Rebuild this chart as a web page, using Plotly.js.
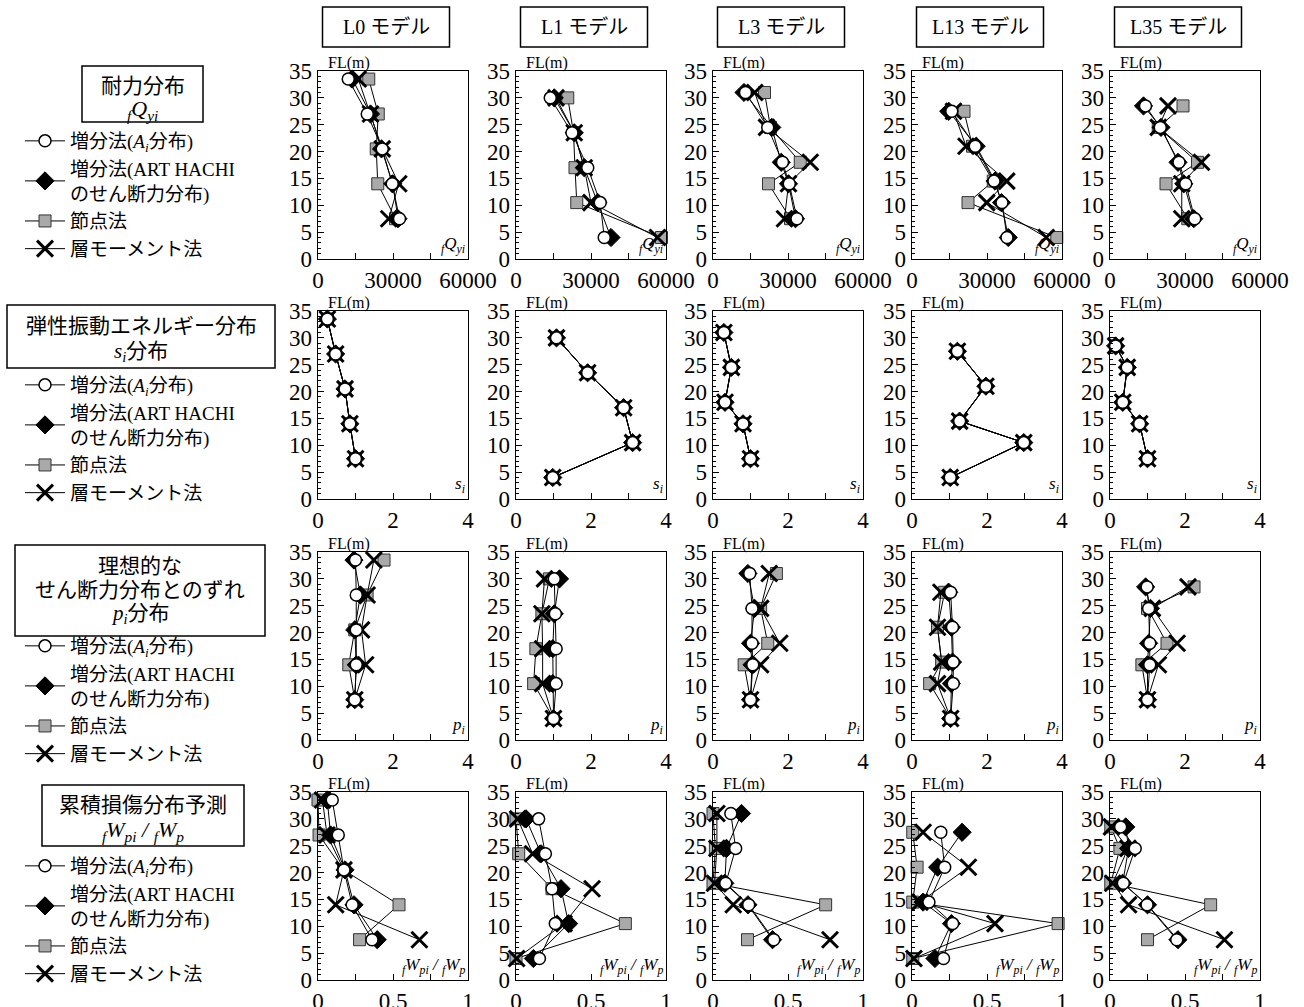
<!DOCTYPE html>
<html>
<head>
<meta charset="utf-8">
<script src="https://cdn.plot.ly/plotly-3.0.1.min.js"></script>
<style>html,body{margin:0;padding:0;background:#fff;}#chart{width:1304px;height:1007px;}</style>
</head>
<body>
<div id="chart"></div>
<script>
// ---------- data ----------
const models = ['L0', 'L1', 'L3', 'L13', 'L35'];
const modelTitles = ['L0 モデル', 'L1 モデル', 'L3 モデル', 'L13 モデル', 'L35 モデル'];
// floor levels FL(m) per model (top to bottom)
const flL0  = [33.5, 27, 20.5, 14, 7.5];
const flL1  = [30, 23.5, 17, 10.5, 4];
const flL3  = [31, 24.5, 18, 14, 7.5];
const flL13 = [27.5, 21, 14.5, 10.5, 4];
const flL35 = [28.5, 24.5, 18, 14, 7.5];
const levels = [flL0, flL1, flL3, flL13, flL35];

const methodNames = ['増分法(<i>A<sub>i</sub></i>分布)', '増分法(ART HACHI<br>のせん断力分布)', '節点法', '層モーメント法'];

// Row 1: strength distribution fQyi
const qyiAi = [
  [12100, 19700, 25700, 29700, 32600],
  [13700, 22400, 28700, 33700, 35300],
  [13000, 21900, 27800, 30500, 33600],
  [15900, 25300, 32800, 36000, 38000],
  [14200, 20100, 27600, 30300, 33900]];
const qyiArt = [
  [13700, 21000, 25400, 29900, 32000],
  [15300, 23300, 27300, 32700, 38000],
  [12400, 23500, 27300, 30200, 33000],
  [14700, 25700, 33200, 35800, 38500],
  [13400, 20400, 27200, 29500, 33500]];
const qyiNode = [
  [20300, 24100, 23300, 23900, 31000],
  [20700, 23000, 23600, 24300, 58200],
  [20600, 23000, 34900, 22200, 31000],
  [20800, 24200, 32500, 22400, 57900],
  [29200, 19300, 35000, 22400, 31100]];
const qyiMoment = [
  [16100, 21000, 25700, 32300, 28300],
  [16000, 23300, 27300, 30000, 56600],
  [16700, 21400, 38900, 30200, 28600],
  [16600, 21600, 37900, 29900, 53700],
  [23200, 19300, 36600, 28700, 28700]];

// Row 2: elastic vibration energy distribution si (all four methods coincide)
const siAll = [
  [0.25, 0.47, 0.72, 0.85, 1.0],
  [1.08, 1.91, 2.87, 3.11, 0.98],
  [0.29, 0.49, 0.32, 0.80, 1.0],
  [1.21, 1.97, 1.27, 2.98, 1.02],
  [0.15, 0.46, 0.34, 0.79, 1.0]];

// Row 3: deviation from ideal shear distribution pi
const piAi = [
  [1.00, 1.02, 1.02, 1.02, 0.98],
  [1.02, 1.05, 1.07, 1.07, 1.00],
  [0.98, 1.04, 1.04, 1.06, 1.00],
  [1.03, 1.08, 1.10, 1.10, 1.03],
  [0.99, 1.03, 1.06, 1.06, 1.00]];
const piArt = [
  [0.96, 1.13, 0.98, 1.02, 0.98],
  [1.16, 1.02, 0.98, 0.98, 1.00],
  [0.93, 1.11, 1.00, 1.04, 1.00],
  [0.98, 1.05, 1.08, 1.05, 1.03],
  [0.95, 1.08, 1.03, 1.00, 1.00]];
const piNode = [
  [1.76, 1.31, 0.98, 0.82, 0.98],
  [0.89, 0.69, 0.53, 0.47, 1.00],
  [1.69, 1.27, 1.46, 0.83, 1.00],
  [0.87, 0.68, 0.79, 0.47, 1.03],
  [2.24, 1.00, 1.52, 0.85, 1.00]];
const piMoment = [
  [1.49, 1.31, 1.16, 1.27, 0.98],
  [0.76, 0.69, 0.71, 0.71, 1.00],
  [1.50, 1.27, 1.78, 1.27, 1.00],
  [0.77, 0.68, 0.79, 0.68, 1.03],
  [2.08, 1.13, 1.79, 1.29, 1.00]];

// Row 4: cumulative damage distribution fWpi / fWp
const wpAi = [
  [0.095, 0.135, 0.173, 0.228, 0.36],
  [0.151, 0.196, 0.24, 0.262, 0.156],
  [0.119, 0.151, 0.085, 0.238, 0.405],
  [0.192, 0.218, 0.113, 0.271, 0.21],
  [0.071, 0.168, 0.089, 0.247, 0.445]];
const wpArt = [
  [0.062, 0.084, 0.18, 0.24, 0.395],
  [0.067, 0.167, 0.30, 0.351, 0.116],
  [0.19, 0.09, 0.079, 0.233, 0.397],
  [0.334, 0.171, 0.074, 0.263, 0.153],
  [0.105, 0.124, 0.084, 0.25, 0.453]];
const wpNode = [
  [0.0, 0.007, 0.17, 0.54, 0.277],
  [0.0, 0.018, 0.24, 0.729, 0.0],
  [0.0, 0.016, 0.0, 0.751, 0.23],
  [0.005, 0.034, 0.005, 0.974, 0.005],
  [0.005, 0.066, 0.005, 0.671, 0.25]];
const wpMoment = [
  [0.03, 0.06, 0.173, 0.118, 0.676],
  [0.011, 0.111, 0.507, 0.32, 0.004],
  [0.026, 0.026, 0.01, 0.135, 0.78],
  [0.074, 0.376, 0.053, 0.553, 0.013],
  [0.01, 0.12, 0.018, 0.124, 0.763]];

// x-axis settings per row
const xRanges = [[0, 60000], [0, 4], [0, 4], [0, 1]];
const xLabelStep = [30000, 2, 2, 0.5];
const xMinorStep = [15000, 1, 1, 0.25];
const xTickFormat = ['d', '', '', ''];
const rowVarLabels = [
  '<i><sub>f</sub>Q<sub>yi</sub></i>',
  '<i>s<sub>i</sub></i>',
  '<i>p<sub>i</sub></i>',
  '<i><sub>f</sub>W<sub>pi</sub> / <sub>f</sub>W<sub>p</sub></i>'];
const rowBoxTexts = [
  ['耐力分布', '<i><sub>f</sub>Q<sub>yi</sub></i>'],
  ['弾性振動エネルギー分布', '<i>s<sub>i</sub></i>分布'],
  ['理想的な', 'せん断力分布とのずれ', '<i>p<sub>i</sub></i>分布'],
  ['累積損傷分布予測', '<i><sub>f</sub>W<sub>pi</sub> / <sub>f</sub>W<sub>p</sub></i>']];

const rowData = [
  [qyiAi, qyiArt, qyiNode, qyiMoment],
  [siAll, siAll, siAll, siAll],
  [piAi, piArt, piNode, piMoment],
  [wpAi, wpArt, wpNode, wpMoment]];

// ---------- layout geometry ----------
const W = 1304, H = 1007;
const colLeft = [318, 516, 713, 912, 1110];
const plotW = 150;
const rowTop = [71, 311, 552, 792];
const plotH = 188;
const px = v => v / W;
const py = v => 1 - v / H;

const SERIF = 'Liberation Serif, Times New Roman, Noto Sans CJK JP, serif';
const MIXED = 'Liberation Serif, Noto Sans CJK JP, serif';

const markerStyles = [
  {symbol: 'circle', size: 12, color: 'white', line: {color: 'black', width: 1.5}},
  {symbol: 'diamond', size: 14, color: 'black', line: {color: 'black', width: 1}},
  {symbol: 'square', size: 12, color: '#a9a9a9', line: {color: '#333', width: 1}},
  {symbol: 'x-thin', size: 16, color: 'black', line: {color: 'black', width: 3}}];
// draw order: square, diamond, x, circle (circle on top)
const drawOrder = [2, 1, 3, 0];
const legendRank = [1, 2, 3, 4];

const traces = [];
const layout = {
  width: W, height: H, autosize: false,
  margin: {l: 0, r: 0, t: 0, b: 0},
  paper_bgcolor: 'white', plot_bgcolor: 'white',
  shapes: [], annotations: [],
  font: {family: SERIF, color: 'black'}
};

for (let r = 0; r < 4; r++) {
  for (let c = 0; c < 5; c++) {
    const idx = r * 5 + c + 1;
    const xa = 'xaxis' + (idx === 1 ? '' : idx);
    const ya = 'yaxis' + (idx === 1 ? '' : idx);
    const xr = 'x' + (idx === 1 ? '' : idx);
    const yr = 'y' + (idx === 1 ? '' : idx);
    layout[xa] = {
      domain: [px(colLeft[c]), px(colLeft[c] + plotW)],
      range: xRanges[r], autorange: false,
      anchor: yr, tick0: 0, dtick: xLabelStep[r],
      tickformat: xTickFormat[r], exponentformat: 'none', separatethousands: false,
      ticks: 'inside', ticklen: 6, tickcolor: 'black', tickwidth: 1,
      minor: {dtick: xMinorStep[r], ticks: 'inside', ticklen: 6, tickcolor: 'black', showgrid: false},
      showline: true, mirror: true, linecolor: 'black', linewidth: 1.3,
      showgrid: false, zeroline: false,
      tickfont: {family: SERIF, size: 23, color: 'black'},
      ticklabelstandoff: 0,
      fixedrange: true
    };
    layout[ya] = {
      domain: [py(rowTop[r] + plotH), py(rowTop[r])],
      range: [0, 35], autorange: false,
      anchor: xr, tick0: 0, dtick: 5,
      ticks: 'inside', ticklen: 6, tickcolor: 'black', tickwidth: 1,
      minor: {dtick: 1, ticks: 'inside', ticklen: 3, tickcolor: 'black', showgrid: false},
      showline: true, mirror: true, linecolor: 'black', linewidth: 1.3,
      showgrid: false, zeroline: false,
      tickfont: {family: SERIF, size: 23, color: 'black'},
      ticklabelstandoff: 0,
      fixedrange: true
    };
    for (const m of drawOrder) {
      traces.push({
        type: 'scatter', mode: 'lines+markers',
        x: rowData[r][m][c], y: levels[c],
        xaxis: xr, yaxis: yr,
        name: methodNames[m],
        legend: 'legend' + (r === 0 ? '' : (r + 1)),
        legendrank: legendRank[m],
        showlegend: c === 0,
        cliponaxis: false,
        line: {color: 'black', width: 1},
        marker: markerStyles[m],
        hoverinfo: 'x+y'
      });
    }
    // FL(m) label
    layout.annotations.push({
      xref: xr + ' domain', yref: yr + ' domain', x: 0.05, y: 1.0,
      xanchor: 'left', yanchor: 'bottom', showarrow: false,
      text: 'FL(m)', font: {family: SERIF, size: 16, color: 'black'}, yshift: -3
    });
    // variable label at bottom-right
    layout.annotations.push({
      xref: xr + ' domain', yref: yr + ' domain', x: 1.0, y: 0.0,
      xanchor: 'right', yanchor: 'bottom', showarrow: false,
      text: rowVarLabels[r], font: {family: SERIF, size: 17, color: 'black'}, xshift: -1, yshift: 1
    });
  }
}

// column header boxes
const headerBoxW = 127, headerTop = 7, headerBot = 47;
for (let c = 0; c < 5; c++) {
  const cx = colLeft[c] + plotW / 2 - 7;
  layout.shapes.push({
    type: 'rect', xref: 'paper', yref: 'paper',
    x0: px(cx - headerBoxW / 2), x1: px(cx + headerBoxW / 2),
    y0: py(headerBot), y1: py(headerTop),
    line: {color: 'black', width: 1.5}, fillcolor: 'rgba(0,0,0,0)'
  });
  layout.annotations.push({
    xref: 'paper', yref: 'paper', x: px(cx), y: py((headerTop + headerBot) / 2),
    xanchor: 'center', yanchor: 'middle', showarrow: false,
    text: modelTitles[c], font: {family: MIXED, size: 20, color: 'black'}
  });
}

// left row boxes
const rowBoxes = [
  {x0: 82, x1: 203, y0: 66, y1: 122, lines: [86, 110]},
  {x0: 7, x1: 275, y0: 305, y1: 368, lines: [326, 352]},
  {x0: 15, x1: 265, y0: 545, y1: 636, lines: [566, 590, 614]},
  {x0: 42, x1: 244, y0: 785, y1: 846, lines: [805, 831]}];
const boxTextSize = [[21, 22], [21, 21], [21, 21, 21], [21, 22]];
rowBoxes.forEach((b, r) => {
  layout.shapes.push({
    type: 'rect', xref: 'paper', yref: 'paper',
    x0: px(b.x0), x1: px(b.x1), y0: py(b.y1), y1: py(b.y0),
    line: {color: 'black', width: 1.5}, fillcolor: 'rgba(0,0,0,0)'
  });
  b.lines.forEach((yy, i) => {
    layout.annotations.push({
      xref: 'paper', yref: 'paper', x: px((b.x0 + b.x1) / 2), y: py(yy),
      xanchor: 'center', yanchor: 'middle', showarrow: false,
      text: rowBoxTexts[r][i], font: {family: MIXED, size: boxTextSize[r][i], color: 'black'}
    });
  });
});

// legends, one per row
const legendTops = [122, 366, 627, 847];
legendTops.forEach((t, r) => {
  const key = 'legend' + (r === 0 ? '' : (r + 1));
  layout[key] = {
    x: px(20), y: py(t), xanchor: 'left', yanchor: 'top',
    bgcolor: 'rgba(0,0,0,0)', borderwidth: 0,
    font: {family: MIXED, size: 19, color: 'black'},
    tracegroupgap: 0, itemwidth: 40, traceorder: 'normal',
    itemclick: false, itemdoubleclick: false
  };
});

Plotly.newPlot('chart', traces, layout, {staticPlot: true, displayModeBar: false});
</script>
</body>
</html>
